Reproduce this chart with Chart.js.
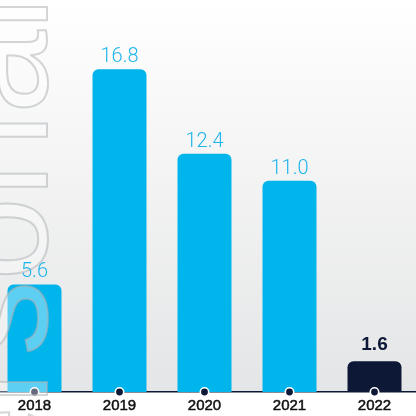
<!DOCTYPE html>
<html>
<head>
<meta charset="utf-8">
<script src="https://cdn.jsdelivr.net/npm/chart.js@4"></script>
<style>
  html, body { margin: 0; padding: 0; background: #ffffff; overflow: hidden; width: 416px; height: 416px; }
  #wrap { position: absolute; left: -8px; top: 0; width: 425px; height: 416px; }
</style>
</head>
<body>
<div id="wrap"><canvas id="c"></canvas></div>
<script>
// Yearly values, one bar per year
const years = ['2018', '2019', '2020', '2021', '2022'];
const values = [5.6, 16.8, 12.4, 11.0, 1.6];
const isCurrent = [false, false, false, false, true];
const watermarkText = 'Personal';

const BLUE = '#00b4ec';
const NAVY = '#0d1836';

// Soft grey gradient behind the bars
const backdrop = {
  id: 'backdrop',
  beforeDraw(chart) {
    const { ctx, chartArea: a } = chart;
    const g = ctx.createLinearGradient(0, a.top, 0, a.bottom);
    g.addColorStop(0, '#ffffff');
    g.addColorStop(1, '#e4e5e6');
    ctx.save();
    ctx.fillStyle = g;
    ctx.fillRect(a.left, a.top, a.right - a.left, a.bottom - a.top);
    ctx.restore();
  }
};

// Dots on the axis line, outlined watermark word, value labels
const overlay = {
  id: 'overlay',
  afterDraw(chart) {
    const { ctx } = chart;
    const xs = chart.scales.x;
    const base = chart.chartArea.bottom;

    ctx.save();
    years.forEach((_, i) => {
      const x = xs.getPixelForValue(i);
      ctx.beginPath();
      ctx.arc(x, base, 4.2, 0, Math.PI * 2);
      ctx.fillStyle = NAVY;
      ctx.fill();
      ctx.lineWidth = 1.6;
      ctx.strokeStyle = '#ffffff';
      ctx.stroke();
    });
    ctx.restore();

    // vertical outlined word along the left edge
    ctx.save();
    ctx.translate(55, 589);
    ctx.rotate(-Math.PI / 2);
    ctx.font = '150px "Liberation Sans", Arial, sans-serif';
    ctx.textBaseline = 'alphabetic';
    ctx.textAlign = 'left';
    ctx.fillStyle = 'rgba(255,255,255,0.36)';
    ctx.fillText(watermarkText, 0, 0);
    ctx.lineWidth = 2;
    ctx.strokeStyle = 'rgba(175,178,182,0.55)';
    ctx.strokeText(watermarkText, 0, 0);
    ctx.restore();

    const meta = chart.getDatasetMeta(0);
    ctx.save();
    ctx.textAlign = 'center';
    ctx.textBaseline = 'alphabetic';
    meta.data.forEach((bar, i) => {
      const txt = values[i].toFixed(1);
      if (isCurrent[i]) {
        ctx.font = 'bold 19px "Liberation Sans", Arial, sans-serif';
        ctx.fillStyle = NAVY;
        ctx.fillText(txt, bar.x, bar.y - 11);
      } else {
        ctx.font = '300 20px Roboto, "Liberation Sans", Arial, sans-serif';
        ctx.fillStyle = '#1fb4ea';
        ctx.fillText(txt, bar.x, bar.y - 7);
      }
    });
    ctx.restore();
  }
};

new Chart(document.getElementById('c'), {
  type: 'bar',
  data: {
    labels: years,
    datasets: [{
      data: values,
      backgroundColor: isCurrent.map(c => c ? NAVY : BLUE),
      borderRadius: 6,
      borderSkipped: 'start',
      categoryPercentage: 1,
      barPercentage: 0.635
    }]
  },
  options: {
    responsive: true,
    maintainAspectRatio: false,
    animation: false,
    layout: { padding: 0 },
    plugins: { legend: { display: false }, tooltip: { enabled: false } },
    scales: {
      x: {
        z: 1,
        grid: { display: false, drawTicks: false },
        border: { display: true, color: NAVY, width: 1.5 },
        ticks: {
          color: '#111111',
          textStrokeColor: '#111111',
          textStrokeWidth: 0.5,
          padding: 5,
          font: { family: '"Liberation Sans", Arial, sans-serif', size: 15 }
        },
        afterFit(scale) { scale.height = 24; }
      },
      y: { display: false, min: 0, max: 20.4 }
    }
  },
  plugins: [backdrop, overlay]
});
</script>
</body>
</html>
